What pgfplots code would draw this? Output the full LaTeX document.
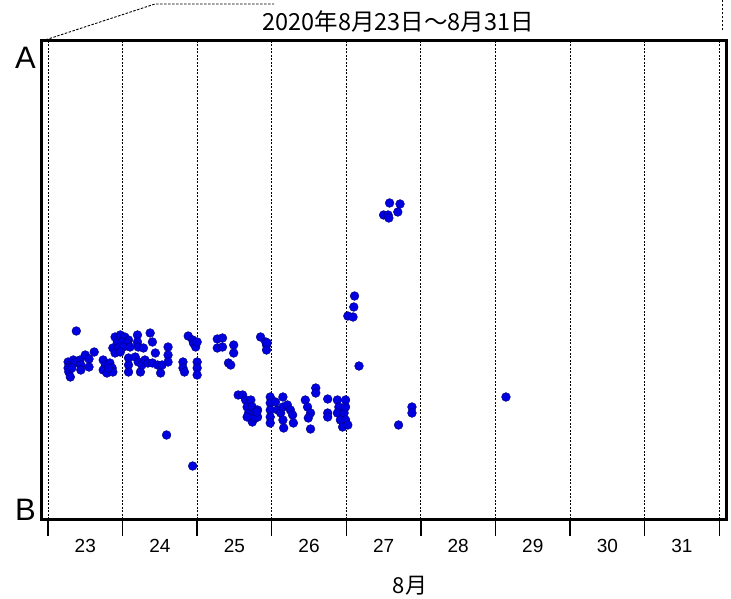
\documentclass[border=0pt]{standalone}
\usepackage{pgfplots}
\pgfplotsset{compat=1.18}
\usepackage{fontspec}
\setmainfont{Liberation Sans}
\newfontfamily\cjk{Noto Sans CJK JP}
\definecolor{ptfill}{RGB}{0,0,225}
\definecolor{ptedge}{RGB}{0,0,120}
\begin{document}
\begin{tikzpicture}[x=1pt,y=1pt]
\path[use as bounding box] (-42,-79) rectangle (689,519);
\begin{axis}[
  at={(0,0)}, anchor=south west,
  scale only axis, width=684pt, height=478pt,
  xmin=22.92, xmax=32.09, ymin=-9, ymax=469,
  clip=false,
  axis line style={line width=3pt},
  xtick={23.5,24.5,25.5,26.5,27.5,28.5,29.5,30.5,31.5},
  xticklabels={23,24,25,26,27,28,29,30,31},
  major tick length=0pt,
  minor xtick={23,24,25,26,27,28,29,30,31,32},
  minor tick length=17pt,
  tick align=outside,
  xtick pos=bottom, ytick pos=left,
  xminorgrids=true,
  minor grid style={black, dash pattern=on 2pt off 1.5pt, line width=0.9pt},
  minor x tick style={line width=1.4pt, black},
  ytick={0,452}, yticklabels={B,A},
  ytick style={draw=none},
  yticklabel style={font=\fontsize{31}{33}\selectfont, inner sep=0pt, xshift=-6pt},
  xticklabel style={font=\fontsize{19}{21}\selectfont, yshift=-17pt},
  /pgf/number format/assume math mode=true,
  title={\cjk 2020年8月23日～8月31日},
  title style={at={(rel axis cs:0.521,1)}, anchor=center, yshift=13pt, font=\fontsize{23.5}{25}\selectfont},
  xlabel={\cjk 8月},
  xlabel style={at={(rel axis cs:0.538,0)}, anchor=center, yshift=-67pt, font=\fontsize{22}{24}\selectfont},
]
\addplot[only marks, mark=*, mark size=4.4pt, mark options={fill=ptfill, draw=ptedge, line width=0.4pt}] table {
x y
23.38 179
23.27 148
23.30 145
23.27 142
23.28 138
23.30 133
23.34 150
23.36 147
23.32 142
23.43 150
23.44 145
23.44 140
23.50 155
23.55 151
23.55 143
23.62 158
23.74 150
23.77 145
23.74 140
23.79 137
23.83 147
23.86 142
23.87 138
23.81 142
23.90 173
23.97 175
24.03 173
24.08 170
23.93 168
23.99 168
24.06 167
23.87 162
23.94 162
24.01 163
24.10 163
23.90 157
23.97 158
24.20 175
24.20 168
24.21 163
24.37 177
24.40 168
24.44 157
24.28 162
24.08 152
24.08 145
24.08 138
24.17 153
24.21 148
24.24 138
24.26 145
24.30 150
24.34 147
24.40 147
24.47 145
24.51 137
24.53 145
24.61 163
24.61 155
24.61 148
24.81 148
24.81 142
24.83 138
24.88 174
24.94 170
24.95 167
24.98 163
25.00 168
25.00 148
25.00 142
25.00 135
24.59 75
24.94 44
25.27 171
25.34 172
25.27 162
25.34 163
25.49 165
25.49 157
25.42 147
25.45 145
25.85 173
25.92 168
25.93 165
25.93 160
25.94 167
25.55 115
25.61 115
25.65 110
25.67 103
25.69 97
25.72 92
25.74 88
25.72 110
25.74 103
25.76 97
25.78 92
25.67 93
25.81 100
25.81 93
25.80 98
25.98 113
25.98 107
25.98 100
25.98 93
25.98 87
26.05 108
26.08 100
26.12 97
26.15 113
26.15 103
26.15 90
26.16 82
26.21 105
26.25 100
26.28 95
26.29 87
26.45 110
26.48 103
26.52 97
26.49 92
26.52 81
26.59 122
26.59 117
26.75 111
26.75 97
26.75 93
26.88 110
26.90 103
26.88 97
26.92 90
26.95 83
26.97 97
26.99 103
26.99 90
27.02 85
26.99 110
27.58 307
27.72 306
27.50 295
27.56 295
27.57 292
27.69 298
27.11 214
27.10 203
27.02 194
27.09 193
27.17 144
27.70 85
27.88 103
27.88 97
29.14 113
};
\end{axis}
\draw[dash pattern=on 2.5pt off 1.5pt, line width=0.9pt] (0,478) -- (113,515) -- (232,515);
\draw[dash pattern=on 2.5pt off 1.5pt, line width=0.9pt] (680,519) -- (680,487);
\end{tikzpicture}
\end{document}
